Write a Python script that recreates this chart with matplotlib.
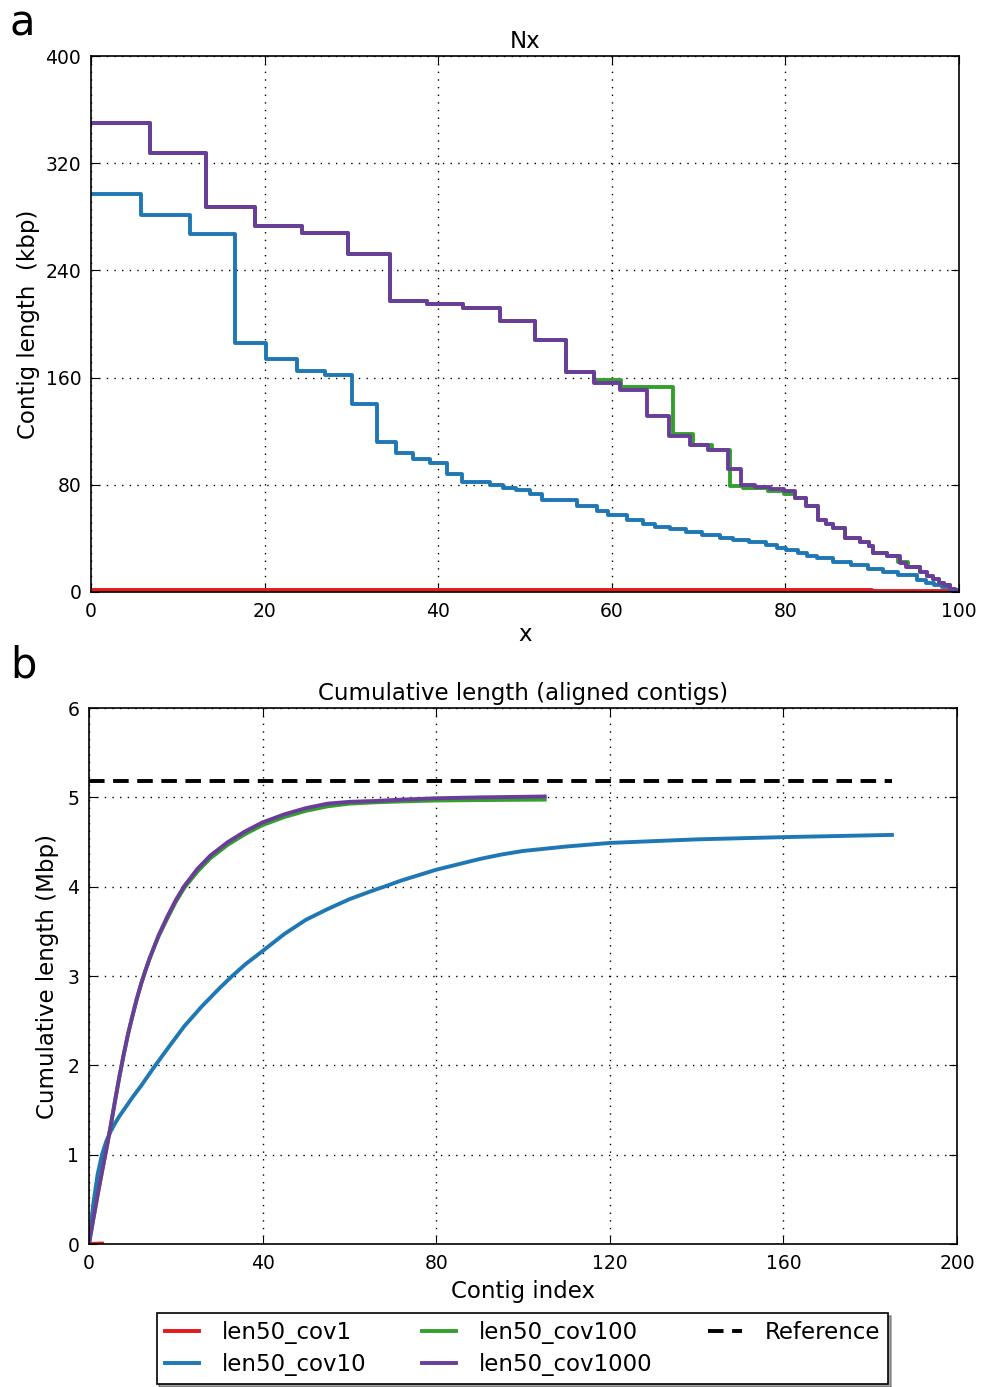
import numpy as np
import matplotlib
matplotlib.use("Agg")
import matplotlib.pyplot as plt

# colours (QUAST palette)
colors = {"len50_cov1": "#E31A1C", "len50_cov10": "#1F78B4",
          "len50_cov100": "#33A02C", "len50_cov1000": "#6A3D9A"}

# ---- panel a: Nx step data (x, contig length kbp) ----
nx_cov1_x = [0, 30, 60, 90, 98.6, 100]
nx_cov1_y = [1.8, 1.5, 1.2, 0.9, 0.6, 0]

nx_cov10_x = [0, 5.8, 11.4, 16.6, 20.2, 23.7, 27.0, 30.1, 32.9, 35.1, 37.1, 39.1,
              41.0, 42.7, 46.0, 47.5, 49.0, 50.6, 52.0, 56.0, 58.3, 59.6, 61.7,
              63.6, 65.0, 66.7, 68.6, 70.4, 72.5, 74.0, 75.8, 77.8, 79.0, 80.1,
              81.5, 82.5, 83.6, 85.5, 87.5, 89.5, 91.3, 93.0, 95.2, 96.2, 97.1,
              98.0, 99.0, 100]
nx_cov10_y = [297, 281, 267, 186, 174, 165, 162, 140, 112, 104, 99, 96,
              88, 82, 80, 77.6, 75.9, 73.4, 68.4, 64.2, 60.2, 57.2, 53.5,
              51, 48.5, 46.8, 44.8, 42.8, 40.3, 38.5, 37, 35, 33, 31.3,
              29, 27, 25.1, 22.5, 20.1, 17.5, 15.2, 12.5, 9, 7, 5.2,
              3.5, 1.5, 0]

nx_cov100_x = [0, 6.8, 13.3, 18.9, 24.3, 29.6, 34.4, 38.7, 42.9, 47.1, 51.1,
               54.7, 58.0, 61.1, 67.0, 69.3, 71.5, 73.6, 75.1, 78.0, 79.8,
               81.1, 82.4, 83.8, 84.7, 85.5, 86.9, 88.6, 89.6, 90.1, 91.7,
               93.0, 94.1, 95.5, 96.3, 97.0, 97.7, 98.3, 99.0, 99.5, 100]
nx_cov100_y = [350, 328, 287, 273, 268, 252, 217, 215, 212, 202, 188,
               164, 158, 153, 118, 110, 106, 79, 77.5, 75.5, 73,
               70, 64, 54, 51, 47.5, 40.5, 37.5, 34, 29, 26.5,
               22, 19, 15, 12, 9.5, 7, 5, 2.5, 1, 0]

nx_cov1000_x = [0, 6.8, 13.3, 18.9, 24.3, 29.6, 34.4, 38.7, 42.9, 47.1, 51.1,
                54.7, 58.0, 61.0, 64.0, 66.6, 69.0, 71.1, 73.4, 74.9, 76.5,
                78.2, 79.8, 81.1, 82.4, 83.8, 84.7, 85.5, 86.9, 88.6, 89.6,
                90.1, 91.7, 93.2, 93.9, 95.5, 96.3, 97.0, 97.7, 98.3, 99.0,
                99.5, 100]
nx_cov1000_y = [350, 328, 287, 273, 268, 252, 217, 215, 212, 202, 188,
                164, 156, 151, 131, 116.5, 110, 106, 92, 80, 78,
                77, 75, 70, 64, 54, 51, 47.5, 40.5, 37.5, 34,
                29, 26.5, 21.5, 19, 15, 12, 9.5, 7, 5, 2.5,
                1, 0]

# ---- panel b: cumulative length (contig index, Mbp) ----
cum_cov1_x = [0, 1, 2, 3]
cum_cov1_y = [0, 0.002, 0.004, 0.005]

cum_cov10_x = [0, 1, 2, 3, 4, 5, 6, 7, 8, 10, 12, 15, 18, 22, 26, 30, 33, 36,
               40, 45, 50, 55, 60, 65, 68, 72, 76, 80, 85, 90, 95, 100, 110,
               120, 140, 160, 175, 185]
cum_cov10_y = [0, 0.45, 0.78, 1.0, 1.15, 1.26, 1.35, 1.43, 1.5, 1.64, 1.77,
               1.98, 2.18, 2.44, 2.66, 2.86, 3.0, 3.13, 3.28, 3.47, 3.63, 3.75,
               3.86, 3.95, 4.0, 4.07, 4.13, 4.19, 4.25, 4.31, 4.36, 4.4, 4.45,
               4.49, 4.53, 4.555, 4.57, 4.58]

cum_cov100_x = [0, 1, 2, 3, 4, 5, 6, 7, 8, 9, 10, 11, 12, 13, 14, 16, 18, 20,
                22, 25, 28, 32, 36, 40, 45, 50, 55, 60, 66, 72, 80, 90, 105]
cum_cov100_y = [0, 0.28, 0.55, 0.81, 1.06, 1.32, 1.6, 1.87, 2.12, 2.35, 2.55,
                2.74, 2.91, 3.06, 3.2, 3.44, 3.64, 3.83, 3.99, 4.17, 4.32, 4.47,
                4.59, 4.69, 4.78, 4.85, 4.9, 4.93, 4.945, 4.955, 4.965, 4.97,
                4.975]

cum_cov1000_x = [0, 1, 2, 3, 4, 5, 6, 7, 8, 9, 10, 11, 12, 13, 14, 16, 18, 20,
                 22, 25, 28, 32, 36, 40, 45, 50, 55, 60, 66, 72, 80, 90, 105]
cum_cov1000_y = [0, 0.28, 0.55, 0.81, 1.06, 1.32, 1.6, 1.87, 2.12, 2.35, 2.55,
                 2.74, 2.91, 3.06, 3.2, 3.45, 3.66, 3.85, 4.01, 4.2, 4.35, 4.5,
                 4.62, 4.72, 4.81, 4.88, 4.93, 4.95, 4.96, 4.975, 4.99, 5.0,
                 5.01]

reference_x = [0, 185]
reference_y = [5.18, 5.18]

lw = 2.8
tick_fs = 13.5
label_fs = 16.5

fig = plt.figure(figsize=(9.84, 13.87), dpi=100)
ax1 = fig.add_axes([0.0925, 0.5732, 0.8821, 0.3864])
ax2 = fig.add_axes([0.0904, 0.1031, 0.8822, 0.3864])

ax1.step(nx_cov1_x, nx_cov1_y, where="post", color=colors["len50_cov1"], lw=lw)
ax1.step(nx_cov10_x, nx_cov10_y, where="post", color=colors["len50_cov10"], lw=lw)
ax1.step(nx_cov100_x, nx_cov100_y, where="post", color=colors["len50_cov100"], lw=lw)
ax1.step(nx_cov1000_x, nx_cov1000_y, where="post", color=colors["len50_cov1000"], lw=lw)
ax1.set_xlim(0, 100)
ax1.set_ylim(0, 400)
ax1.set_xticks(range(0, 101, 20))
ax1.set_yticks(range(0, 401, 80))
ax1.set_title("Nx", fontsize=label_fs, pad=6)
ax1.set_xlabel("x", fontsize=label_fs, labelpad=2)
ax1.set_ylabel("Contig length  (kbp)", fontsize=label_fs, labelpad=4)

ax2.plot(cum_cov1_x, cum_cov1_y, color=colors["len50_cov1"], lw=lw, label="len50_cov1")
ax2.plot(cum_cov10_x, cum_cov10_y, color=colors["len50_cov10"], lw=lw, label="len50_cov10")
ax2.plot(cum_cov100_x, cum_cov100_y, color=colors["len50_cov100"], lw=lw, label="len50_cov100")
ax2.plot(cum_cov1000_x, cum_cov1000_y, color=colors["len50_cov1000"], lw=lw, label="len50_cov1000")
ax2.plot(reference_x, reference_y, color="black", lw=lw, ls="--", dashes=(4.0, 2.2),
         label="Reference")
ax2.set_xlim(0, 200)
ax2.set_ylim(0, 6)
ax2.set_xticks(range(0, 201, 40))
ax2.set_yticks(range(0, 7))
ax2.set_title("Cumulative length (aligned contigs)", fontsize=label_fs, pad=6)
ax2.set_xlabel("Contig index", fontsize=label_fs, labelpad=5)
ax2.set_ylabel("Cumulative length (Mbp)", fontsize=label_fs, labelpad=6)

for ax in (ax1, ax2):
    ax.grid(True, ls=(0, (1, 4.5)), color="black", lw=1.0)
    ax.tick_params(direction="in", top=True, right=True, length=6,
                   labelsize=tick_fs, pad=7)
    for s in ax.spines.values():
        s.set_linewidth(1.2)

fig.text(0.01, 1 - 35 / 1387, "a", fontsize=30, va="baseline")
fig.text(0.01, 1 - 678 / 1387, "b", fontsize=30, va="baseline")

handles, labels = ax2.get_legend_handles_labels()
leg = fig.legend(handles, labels,
                 loc="center", bbox_to_anchor=(0.531, 0.0275), ncol=3,
                 fontsize=label_fs, frameon=True, fancybox=False, shadow=True,
                 handlelength=1.5, columnspacing=2.4, borderpad=0.35,
                 labelspacing=0.4, handletextpad=1.0, borderaxespad=0)
leg.get_frame().set_edgecolor("black")
leg.get_frame().set_linewidth(1.2)

fig.savefig("out.png", dpi=100)
